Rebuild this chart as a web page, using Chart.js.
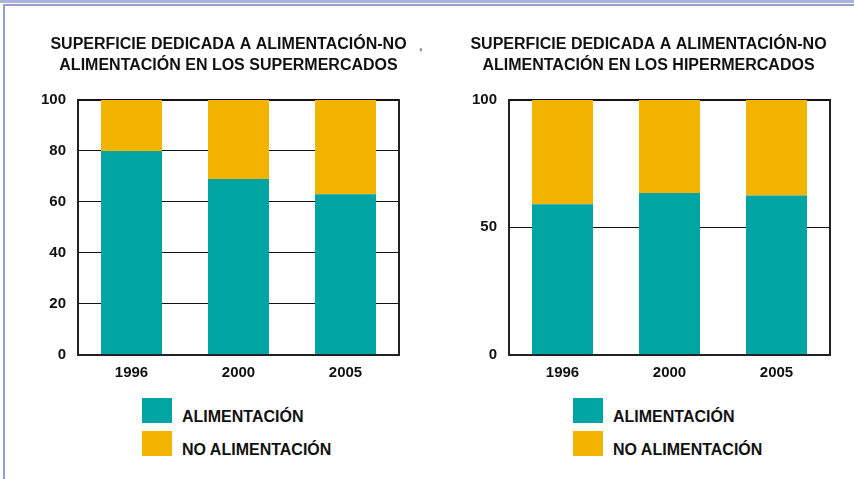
<!DOCTYPE html>
<html>
<head>
<meta charset="utf-8">
<script src="https://cdn.jsdelivr.net/npm/chart.js@4.4.0/dist/chart.umd.min.js"></script>
<style>
  body { margin: 0; width: 854px; height: 479px; background: #fff; position: relative; overflow: hidden; font-family: "Liberation Sans", Arial, sans-serif; }
  .band { position: absolute; left: 0; top: 0; width: 854px; height: 3px; background: #abb3da; }
  .line-top { position: absolute; left: 3px; top: 4px; width: 851px; height: 2px; background: #929ecd; }
  .line-left { position: absolute; left: 3px; top: 4px; width: 2px; height: 475px; background: #929ecd; }
  canvas { position: absolute; top: 28px; }
  .legend { position: absolute; top: 398px; }
  .item { display: flex; align-items: flex-end; height: 25px; margin-bottom: 8px; }
  .box { width: 30px; height: 25px; margin-right: 10px; }
  .txt { font-weight: bold; font-size: 16px; line-height: 16px; color: #111; position: relative; top: 2px; }
  .comma { position: absolute; left: 419px; top: 38px; font-size: 13px; line-height: 15px; color: #222; }
</style>
</head>
<body>
<div class="band"></div>
<div class="line-top"></div>
<div class="line-left"></div>
<span class="comma">,</span>

<canvas id="super-chart" width="417" height="360" style="left:20px"></canvas>
<canvas id="hiper-chart" width="397" height="360" style="left:450px"></canvas>
<div class="legend" id="super-legend" style="left:142px"></div>
<div class="legend" id="hiper-legend" style="left:573px"></div>

<script>
// Datos de los gráficos
const categories = ['1996', '2000', '2005'];
const seriesLabels = ['ALIMENTACIÓN', 'NO ALIMENTACIÓN'];
const superAlim = [80, 69, 63];
const superNoAlim = [20, 31, 37];
const hiperAlim = [59, 63.5, 62.5];
const hiperNoAlim = [41, 36.5, 37.5];
const superTitle = ['SUPERFICIE DEDICADA A ALIMENTACIÓN-NO', 'ALIMENTACIÓN EN LOS SUPERMERCADOS'];
const hiperTitle = ['SUPERFICIE DEDICADA A ALIMENTACIÓN-NO', 'ALIMENTACIÓN EN LOS HIPERMERCADOS'];

const colors = ['#00a4a2', '#f2b400'];
const tickFont = { size: 15, weight: 'bold' };

Chart.defaults.font.family = '"Liberation Sans", Arial, sans-serif';
Chart.defaults.color = '#111';

// Crea un gráfico de barras apiladas con su leyenda
function makeChart(id, legendId, title, alim, noAlim, step, yWidth, rightWidth) {
    const ctx = document.getElementById(id).getContext('2d');

    const chart = new Chart(ctx, {
        type: 'bar',
        data: {
            labels: categories,
            datasets: [
                { label: seriesLabels[0], data: alim, backgroundColor: colors[0], yAxisID: 'y' },
                { label: seriesLabels[1], data: noAlim, backgroundColor: colors[1], yAxisID: 'y' }
            ]
        },
        options: {
            responsive: false,
            animation: false,
            datasets: { bar: { barPercentage: 0.57, categoryPercentage: 1, borderWidth: 0 } },
            plugins: {
                legend: { display: false },
                tooltip: { enabled: false },
                title: {
                    display: true,
                    text: title,
                    color: '#111',
                    font: { size: 16, weight: 'bold', lineHeight: 1.3125 },
                    padding: { top: 6, bottom: 24 }
                }
            },
            scales: {
                x: {
                    stacked: true,
                    grid: { display: false, drawTicks: false },
                    border: { color: '#222', width: 2 },
                    ticks: { padding: 9, font: tickFont },
                    afterFit: s => { s.height = 33.5; }
                },
                y: {
                    stacked: true,
                    min: 0,
                    max: 100,
                    ticks: { stepSize: step, padding: 12, font: tickFont },
                    grid: { color: '#111', lineWidth: c => (c.tick && c.tick.value === 100 ? 2 : 1), drawTicks: false },
                    border: { color: '#222', width: 2 },
                    afterFit: s => { s.width = yWidth; }
                },
                // eje vacío a la derecha: sólo dibuja el borde del marco
                y2: {
                    position: 'right',
                    grid: { display: false },
                    ticks: { display: false },
                    border: { color: '#222', width: 2 },
                    afterFit: s => { s.width = rightWidth; }
                }
            }
        }
    });

    // Leyenda en HTML a partir de los datasets
    const legend = document.getElementById(legendId);
    chart.data.datasets.forEach(ds => {
        const item = document.createElement('div');
        item.className = 'item';
        const box = document.createElement('div');
        box.className = 'box';
        box.style.background = ds.backgroundColor;
        const txt = document.createElement('span');
        txt.className = 'txt';
        txt.textContent = ds.label;
        item.appendChild(box);
        item.appendChild(txt);
        legend.appendChild(item);
    });

    return chart;
}

makeChart('super-chart', 'super-legend', superTitle, superAlim, superNoAlim, 20, 58, 38);
makeChart('hiper-chart', 'hiper-legend', hiperTitle, hiperAlim, hiperNoAlim, 50, 59, 17);
</script>
</body>
</html>
